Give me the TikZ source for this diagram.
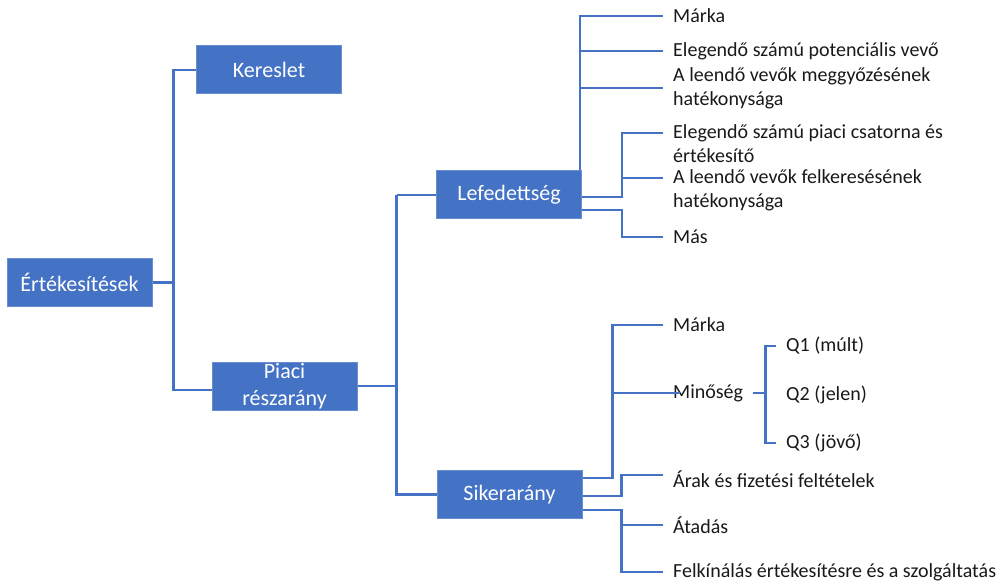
\documentclass[tikz,border=0pt]{standalone}
\usepackage{fontspec}
\setmainfont{Carlito}
\definecolor{smartblue}{HTML}{4472C4}

\begin{document}
\begin{tikzpicture}[x=1pt,y=-1pt,
  box/.style={rectangle, fill=smartblue, draw=smartblue!80!white, line width=1pt, text=white,
    minimum width=145pt, minimum height=48pt, inner sep=0pt, align=center,
    font=\fontsize{22}{27}\selectfont},
  leaf/.style={anchor=west, inner xsep=10pt, inner ysep=0pt, align=left, text=black!90,
    font=\fontsize{20}{24}\selectfont},
  conn/.style={draw=smartblue, line width=2.8pt}]
  \useasboundingbox (0,0) rectangle (1001,585);

  % main boxes
  \node [box] (ert) at (79.5,282.5) {Értékesítések};
  \node [box] (ker) at (269,70) {Kereslet};
  \node [box] (piac) at (284.5,386) {Piaci\\részarány};
  \node [box] (lef) at (509,195) {Lefedettség};
  \node [box] (sik) at (509.5,494.5) {Sikerarány};

  % Lefedettség leaves
  \node [leaf] (l1) at (663,16) {Márka};
  \node [leaf] (l2) at (663,51) {Elegendő számú potenciális vevő};
  \node [leaf] (l3) at (663,88) {A leendő vevők meggyőzésének\\hatékonysága};
  \node [leaf] (l4) at (663,143.5) {Elegendő számú piaci csatorna és\\értékesítő};
  \node [leaf] (l5) at (663,190) {A leendő vevők felkeresésének\\hatékonysága};
  \node [leaf] (l6) at (663,237) {Más};

  % Sikerarány leaves
  \node [leaf] (s1) at (663,325) {Márka};
  \node [leaf] (s2) at (663,393) {Minőség};
  \node [leaf] (s3) at (663,479) {Árak és fizetési feltételek};
  \node [leaf] (s4) at (663,525) {Átadás};
  \node [leaf] (s5) at (663,572) {Felkínálás értékesítésre és a szolgáltatás};
  \node [leaf] (q1) at (776,346) {Q1 (múlt)};
  \node [leaf] (q2) at (776,395) {Q2 (jelen)};
  \node [leaf] (q3) at (776,443) {Q3 (jövő)};

  % connectors
  \draw [conn] (ert.east) -- ++(21,0) |- (ker.west);
  \draw [conn] (ert.east) -- ++(21,0) |- ([yshift=-4pt]piac.west);
  \draw [conn] (piac.east) -- ++(39,0) coordinate (bus2) |- (sik.west);
  \draw [conn] (bus2) -- (bus2 |- lef.west);
  \draw [conn, line width=1.2pt] (bus2 |- lef.west) -- (lef.west);

  \draw [conn] ([xshift=-2pt]lef.north east) |- (l1.west);
  \draw [conn] ([xshift=-2pt]lef.north east) |- (l2.west);
  \draw [conn] ([xshift=-2pt]lef.north east) |- (l3.west);
  \draw [conn] ([yshift=-2pt]lef.east) -- ++(40,0) |- ([yshift=10.5pt]l4.west);
  \draw [conn] ([yshift=-2pt]lef.east) -- ++(40,0) |- ([yshift=12pt]l5.west);
  \draw [conn] ([yshift=-15pt]lef.east) -- ++(40,0) |- (l6.west);

  \draw [conn] ([yshift=16.5pt]sik.east) -- ++(30,0) |- (s1.west);
  \draw [conn] ([yshift=16.5pt]sik.east) -- ++(30,0) |- ([xshift=17pt]s2.west);
  \draw [conn] ([yshift=-1.5pt]sik.east) -- ++(39,0) |- ([yshift=4pt]s3.west);
  \draw [conn] ([yshift=-15.5pt]sik.east) -- ++(39,0) |- (s4.west);
  \draw [conn] ([yshift=-15.5pt]sik.east) -- ++(39,0) |- (s5.west);

  \draw [conn] (s2.east) -- ++(12,0) |- (q1.west);
  \draw [conn] (s2.east) -- ++(12,0) |- (q3.west);
\end{tikzpicture}
\end{document}
